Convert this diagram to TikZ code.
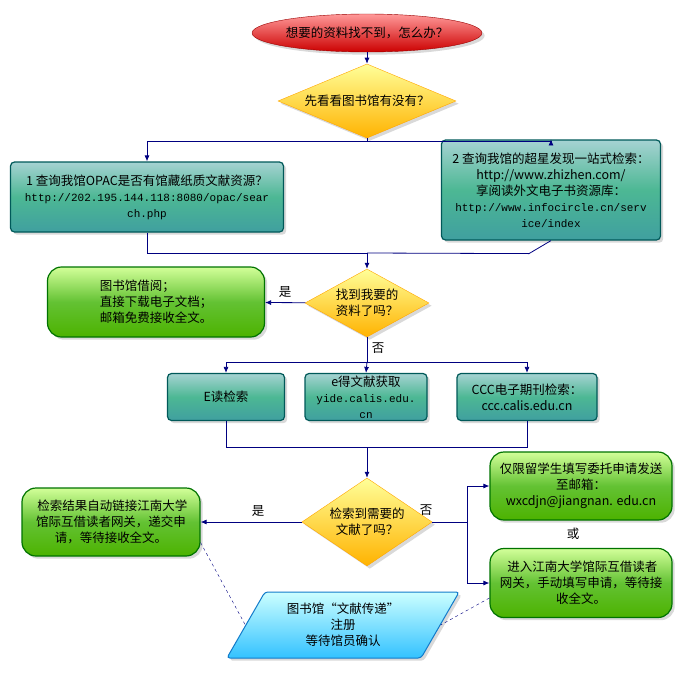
\documentclass[tikz,border=0pt]{standalone}
\usepackage{fontspec}
\setmainfont{Noto Sans CJK SC}
\newfontfamily\urlf{Liberation Mono}
\usetikzlibrary{shapes.geometric,arrows.meta,shadows}
\begin{document}
\begin{tikzpicture}[x=1pt,y=-1pt,
  font=\fontsize{12.5}{16}\selectfont,
  ar/.style={draw=blue!50!black,line width=0.8pt,-{Latex[length=6pt,width=5pt]}},
  ln/.style={draw=blue!50!black,line width=0.8pt},
  teal/.style={draw=teal!70!black,line width=1.2pt,rounded corners=4pt,top color=teal!35!white,bottom color=teal!75!white,middle color=teal!80!green!70,align=center,inner sep=2pt,drop shadow={opacity=0.3}},
  grn/.style={draw=green!45!black,line width=1.2pt,rounded corners=14pt,top color=green!25!lime!40!white,bottom color=green!50!black!60!lime,middle color=green!55!lime!70!black!80,align=center,inner sep=2pt,drop shadow={opacity=0.3}},
  dia/.style={diamond,aspect=2,draw=orange!70!yellow,top color=yellow!40,bottom color=orange!60!yellow,inner sep=0pt,align=center,drop shadow={opacity=0.3}},
]
\useasboundingbox (0,0) rectangle (678,675);
\node[ellipse,draw=red!60!black,top color=red!40!white,bottom color=red!80!black,minimum width=206pt,minimum height=38pt,inner sep=0pt,drop shadow={opacity=0.3}] (start) at (367,33) {想要的资料找不到，怎么办？};
\node[dia,minimum width=178pt,minimum height=48pt] (d1) at (367,101) {先看看图书馆有没有？};
\node[teal,minimum width=273pt,minimum height=70pt] (b1) at (147,197) {1 查询我馆OPAC是否有馆藏纸质文献资源？\\{\urlf\fontsize{11}{16}\selectfont http://202.195.144.118:8080/opac/sear}\\{\urlf\fontsize{11}{16}\selectfont ch.php}};
\node[teal,minimum width=219pt,minimum height=100pt] (b2) at (551,190) {2 查询我馆的超星发现一站式检索：\\http://www.zhizhen.com/\\享阅读外文电子书资源库：\\{\urlf\fontsize{11}{16}\selectfont http://www.infocircle.cn/serv}\\{\urlf\fontsize{11}{16}\selectfont ice/index}};
\node[dia,minimum width=124pt,minimum height=68pt] (d2) at (367,303) {找到我要的\\资料了吗？};
\node[grn,minimum width=217pt,minimum height=70pt,align=left] (g1) at (156,302) {图书馆借阅；\\直接下载电子文档；\\邮箱免费接收全文。};
\node[teal,minimum width=117pt,minimum height=47pt] (e1) at (226,397) {E读检索};
\node[teal,minimum width=122pt,minimum height=47pt] (e2) at (366,397) {e得文献获取\\{\urlf\fontsize{11}{13}\selectfont yide.calis.edu.}\\{\urlf\fontsize{11}{13}\selectfont cn}};
\node[teal,minimum width=140pt,minimum height=47pt] (e3) at (527,397) {CCC电子期刊检索：\\ccc.calis.edu.cn};
\node[dia,minimum width=114pt,minimum height=88pt] (d3) at (367,522) {检索到需要的\\文献了吗？};
\node[grn,minimum width=178pt,minimum height=68pt] (g2) at (111,522) {\ 检索结果自动链接江南大学\\馆际互借读者网关，递交申\\请，等待接收全文。};
\node[grn,minimum width=182pt,minimum height=68pt] (g3) at (581,486) {仅限留学生填写委托申请发送\\至邮箱：\\wxcdjn@jiangnan. edu.cn};
\node[grn,minimum width=182pt,minimum height=69pt] (g4) at (581,583) {\ 进入江南大学馆际互借读者\\网关，手动填写申请，等待接\\收全文。};
\node[trapezium,trapezium left angle=60,trapezium right angle=120,draw=cyan!60!blue,line width=1pt,top color=cyan!20,bottom color=cyan!70!blue!80,minimum width=160pt,minimum height=66pt,align=center,rounded corners=3pt,drop shadow={opacity=0.3}] (p) at (343,625) {图书馆“文献传递”\\注册\\等待馆员确认};
\node (or) at (573,534) {或};
\node (y1) at (285,292) {是};
\node (n1) at (378,348) {否};
\node (y2) at (258,511) {是};
\node (n2) at (426,510) {否};
\coordinate (s1) at (367,141);
\coordinate (s2) at (367,253);
\coordinate (s3) at (367,362);
\coordinate (s4) at (367,447);
\coordinate (s5) at (467,522);
\draw[ar] (start) -- (d1);
\draw[ln] (d1) -- (s1);
\draw[ar] (s1) -| (b1.north);
\draw[ar] (s1) -| (b2.north);
\draw[ln] (b1.south) |- (s2);
\draw[ln] (b2.south) -- ++(-22,13) -- (s2);
\draw[ar] (s2) -- (d2);
\draw[ar] (d2) -- (g1);
\draw[ln] (d2) -- (s3);
\draw[ar] (s3) -| (e1.north);
\draw[ar] (s3) -- (e2.north);
\draw[ar] (s3) -| (e3.north);
\draw[ln] (e1.south) |- (s4);
\draw[ln] (e3.south) |- (s4);
\draw[ar] (s4) -- (d3);
\draw[ar] (d3) -- (g2);
\draw[ln] (d3) -- (s5);
\draw[ar] (s5) |- (g3.west);
\draw[ar] (s5) |- (g4.west);
\draw[dashed,draw=blue!50!black] (g2.south east) ++(0,-14) -- (p.180);
\draw[dashed,draw=blue!50!black] (g4.west) ++(0,15) -- (p.0);
\end{tikzpicture}
\end{document}
